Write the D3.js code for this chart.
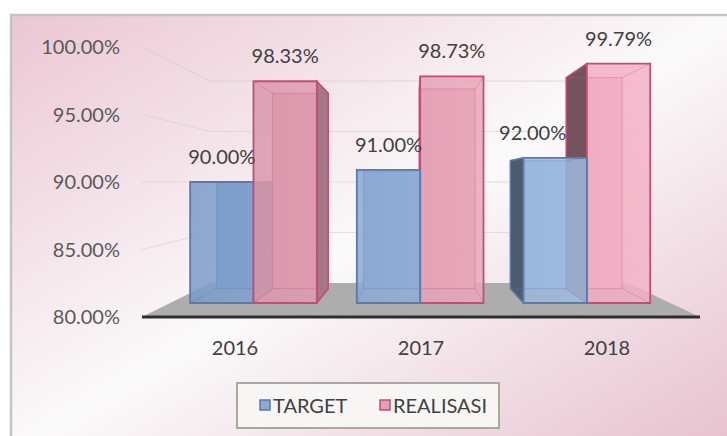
<!DOCTYPE html>
<html>
<head>
<meta charset="utf-8">
<script src="https://cdn.jsdelivr.net/npm/d3@7"></script>
<style>
  html, body { margin: 0; padding: 0; background: #fff; }
  svg { display: block; font-family: Lato, "Open Sans", sans-serif; }
</style>
</head>
<body>
<svg id="chart" width="727" height="436"></svg>
<script>
// data
const years = ['2016', '2017', '2018'];
const seriesNames = ['TARGET', 'REALISASI'];
const target = [90.00, 91.00, 92.00];
const realisasi = [98.33, 98.73, 99.79];
const yTicks = [80, 85, 90, 95, 100];

const seriesColor = {
    TARGET: { dark: '#7b9bc9', light: '#a6c0e2', edge: '#5a7aaa' },
    REALISASI: { dark: '#d693a7', light: '#f3b2c7', edge: '#c24d7a' }
};

const svg = d3.select('#chart');
const defs = svg.append('defs');

// chart background
const bg = defs.append('linearGradient').attr('id', 'bg')
    .attr('x1', 0).attr('y1', 0).attr('x2', 1).attr('y2', 1);
bg.append('stop').attr('offset', 0).attr('stop-color', '#ebc6d3');
bg.append('stop').attr('offset', 0.5).attr('stop-color', '#fbfafa');
bg.append('stop').attr('offset', 1).attr('stop-color', '#e6bfcd');

svg.append('rect')
    .attr('x', 10).attr('y', 14).attr('width', 730).attr('height', 440)
    .attr('fill', 'url(#bg)');
svg.append('path')
    .attr('d', 'M11,440 L11,15 L740,15')
    .attr('fill', 'none').attr('stroke', '#c4c4c4').attr('stroke-width', 2.5);

// simple perspective: eye at (vx, vy), depth t in [0, 1] from floor front to back wall
const vx = 413, vy = 182, K = 0.337;
const depth = t => 1 / (1 + K * t);
const project = (wx, wy, t) => [vx + wx * depth(t), vy + wy * depth(t)];
const barFront = 0.344, barBack = 0.79;

const y = d3.scaleLinear().domain([80, 100]).range([135, -135]);
const x = d3.scaleBand().domain(years).range([-271, 287])
    .paddingInner(0.24).paddingOuter(0.12);
const xs = d3.scaleBand().domain(seriesNames).range([0, x.bandwidth()]);

const line = d3.line();
const poly = pts => line(pts) + 'Z';
const wl = x.range()[0], wr = x.range()[1];

// gridlines on side wall and back wall
const grid = svg.append('g');
yTicks.filter(v => v > 80).forEach(v => {
    grid.append('path')
        .attr('d', line([project(wl, y(v), 0), project(wl, y(v), 1), project(wr, y(v), 1)]))
        .attr('fill', 'none')
        .attr('stroke', '#d4cfd2')
        .attr('stroke-opacity', 0.6)
        .attr('stroke-width', 1.2);
});

// floor
svg.append('path')
    .attr('d', poly([project(wl, y(80), 0), project(wr, y(80), 0), project(wr, y(80), 1), project(wl, y(80), 1)]))
    .attr('fill', '#adadad');
svg.append('path')
    .attr('d', line([project(wl, y(80), 0), project(wr, y(80), 0)]))
    .attr('stroke', '#2e2e2e').attr('stroke-width', 3);

// y axis labels at the front left edge
svg.append('g').selectAll('text').data(yTicks).join('text')
    .attr('x', 120)
    .attr('y', d => project(wl, y(d), 0)[1] + 7)
    .attr('text-anchor', 'end')
    .attr('font-size', 20)
    .attr('fill', '#595959')
    .text(d => d.toFixed(2) + '%');

// category labels
svg.append('g').selectAll('text').data(years).join('text')
    .attr('x', d => project(x(d) + x.bandwidth() / 2, y(80), 0)[0])
    .attr('y', 355)
    .attr('text-anchor', 'middle')
    .attr('font-size', 20)
    .attr('fill', '#404040')
    .text(d => d);

// per-series horizontal shading on the fronts
seriesNames.forEach(s => {
    const g = defs.append('linearGradient').attr('id', 'fill-' + s)
        .attr('gradientUnits', 'userSpaceOnUse')
        .attr('x1', 190).attr('y1', 0).attr('x2', 650).attr('y2', 0);
    g.append('stop').attr('offset', 0).attr('stop-color', seriesColor[s].dark);
    g.append('stop').attr('offset', 1).attr('stop-color', seriesColor[s].light);
});

// build bars
const bars = [];
years.forEach((yr, i) => {
    [target[i], realisasi[i]].forEach((v, j) => {
        const s = seriesNames[j];
        const x0 = x(yr) + xs(s), x1 = x0 + xs.bandwidth();
        bars.push({ year: yr, series: s, value: v, x0, x1, mid: (x0 + x1) / 2 });
    });
});

// paint the ones furthest from the eye line first
const order = bars.slice().sort((a, b) => Math.abs(b.mid) - Math.abs(a.mid));
const barLayer = svg.append('g');

order.forEach(b => {
    const c = seriesColor[b.series];
    const yb = y(80), yt = y(b.value);
    const F = {
        bl: project(b.x0, yb, barFront), br: project(b.x1, yb, barFront),
        tl: project(b.x0, yt, barFront), tr: project(b.x1, yt, barFront)
    };
    const B = {
        bl: project(b.x0, yb, barBack), br: project(b.x1, yb, barBack),
        tl: project(b.x0, yt, barBack), tr: project(b.x1, yt, barBack)
    };
    const g = barLayer.append('g');
    const fill = 'url(#fill-' + b.series + ')';

    // whole silhouette
    g.append('path')
        .attr('d', poly([B.bl, B.tl, B.tr, B.br]))
        .attr('fill', fill);

    // visible side face
    let side = null;
    if (b.x1 < 0) side = [F.tr, B.tr, B.br, F.br];
    else if (b.x0 > 0) side = [F.tl, B.tl, B.bl, F.bl];
    if (side) {
        const right = b.x1 < 0;
        g.append('path')
            .attr('d', poly(side))
            .attr('fill', d3.color(c.light).darker(right ? 1.1 : 2.1))
            .attr('stroke', c.edge).attr('stroke-width', 1.5);
    }

    // front face, see-through
    g.append('path')
        .attr('d', poly([F.bl, F.tl, F.tr, F.br]))
        .attr('fill', fill).attr('fill-opacity', 0.85);

    // back edges seen through the front
    g.append('path')
        .attr('d', poly([B.bl, B.tl, B.tr, B.br]))
        .attr('fill', 'none').attr('stroke', c.edge).attr('stroke-opacity', 0.3);
    ['bl', 'br', 'tl', 'tr'].forEach(k => {
        g.append('path').attr('d', line([F[k], B[k]]))
            .attr('stroke', c.edge).attr('stroke-opacity', 0.3);
    });

    g.append('path')
        .attr('d', poly([F.bl, F.tl, F.tr, F.br]))
        .attr('fill', 'none').attr('stroke', c.edge).attr('stroke-width', 1.8);

    b.front = F;
    b.back = B;
});

// data labels above each bar, pushed left off a dark neighbour face
const labels = svg.append('g');
bars.forEach((b, i) => {
    const cx = (b.front.tl[0] + b.front.tr[0]) / 2;
    const t = labels.append('text')
        .attr('x', cx)
        .attr('y', b.front.tl[1] - 18)
        .attr('text-anchor', 'middle')
        .attr('font-size', 20)
        .attr('fill', '#404040')
        .text(b.value.toFixed(2) + '%');
    const next = bars[i + 1];
    if (next && next.year === b.year) {
        const face = next.front.tl[0] - next.back.tl[0];
        const w = t.node().getComputedTextLength();
        if (face > 5 && cx + w / 2 > next.back.tl[0]) {
            t.attr('x', next.back.tl[0] - w / 2);
        }
    }
});

// legend
const legend = svg.append('g').attr('transform', 'translate(237,383)');
legend.append('rect')
    .attr('width', 262).attr('height', 45)
    .attr('fill', '#f8f6f5').attr('stroke', '#a5ab98').attr('stroke-width', 2);
const items = [{ name: 'TARGET', x: 23 }, { name: 'REALISASI', x: 143 }];
items.forEach(it => {
    const c = seriesColor[it.name];
    legend.append('rect')
        .attr('x', it.x).attr('y', 17).attr('width', 10).attr('height', 10)
        .attr('fill', d3.interpolateRgb(c.dark, c.light)(0.4))
        .attr('stroke', c.edge).attr('stroke-width', 1.5);
    legend.append('text')
        .attr('x', it.x + 13).attr('y', 30)
        .attr('font-size', 20).attr('fill', '#404040')
        .text(it.name);
});
</script>
</body>
</html>
